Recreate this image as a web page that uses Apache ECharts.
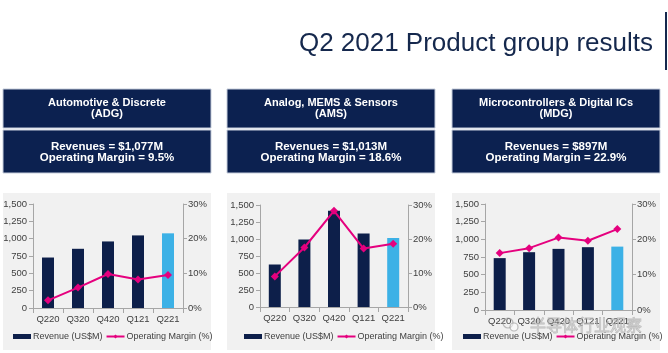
<!DOCTYPE html>
<html>
<head>
<meta charset="utf-8">
<title>Q2 2021 Product group results</title>
<script src="https://cdn.jsdelivr.net/npm/echarts@6/dist/echarts.min.js"></script>
<style>
  html, body { margin: 0; padding: 0; background: #fff; }
  .chart_main { width: 668px; height: 353px; }
</style>
</head>
<body>
<div class="chart_main"></div>
<script>
// 数据
var quarters = ['Q220', 'Q320', 'Q420', 'Q121', 'Q221'];

var adgRevenue = [728, 854, 960, 1047, 1077];
var adgMargin = [2.2, 5.9, 9.8, 8.2, 9.5];

var amsRevenue = [625, 993, 1416, 1082, 1013];
var amsMargin = [9.0, 17.5, 28.3, 17.2, 18.6];

var mdgRevenue = [734, 818, 865, 889, 897];
var mdgMargin = [16.1, 17.5, 20.5, 19.6, 22.9];

// 轴: min, max, interval
var revenueAxis = [0, 1500, 250];
var marginAxis = [0, 30, 10];

// 标题文字
var groupNames = ['Automotive & Discrete', 'Analog, MEMS & Sensors', 'Microcontrollers & Digital ICs'];
var groupCodes = ['(ADG)', '(AMS)', '(MDG)'];
var revenueTexts = ['Revenues = $1,077M', 'Revenues = $1,013M', 'Revenues = $897M'];
var marginTexts = ['Operating Margin = 9.5%', 'Operating Margin = 18.6%', 'Operating Margin = 22.9%'];

var revenueName = 'Revenue (US$M)';
var marginName = 'Operating Margin (%)';

var navy = '#0c2150';
var barNavy = '#0d1f4a';
var lightBlue = '#3cb1e6';
var magenta = '#e5007e';
var font = 'Liberation Sans, Arial, sans-serif';

var chart = echarts.init(document.querySelector('.chart_main'));

// 每个面板的位置
var panelX = [3, 227, 452];
var panelW = 208;
var grids = [
  { left: 33, top: 204, width: 150, height: 104 },
  { left: 260, top: 205, width: 148, height: 102 },
  { left: 485, top: 204, width: 147, height: 106 }
];
var legendLeft = [13, 244, 463];

var revenues = [adgRevenue, amsRevenue, mdgRevenue];
var margins = [adgMargin, amsMargin, mdgMargin];

var xAxes = [], yAxes = [], series = [], legends = [], graphics = [];

for (var i = 0; i < 3; i++) {
  xAxes.push({
    type: 'category',
    gridIndex: i,
    data: quarters,
    axisLine: { lineStyle: { color: '#a6a6a6' } },
    axisTick: { show: true, lineStyle: { color: '#a6a6a6' } },
    axisLabel: { color: '#404040', fontSize: 9.5, fontFamily: font, margin: 6, interval: 0 }
  });
  // 左轴 收入
  yAxes.push({
    type: 'value',
    gridIndex: i,
    min: revenueAxis[0],
    max: revenueAxis[1],
    interval: revenueAxis[2],
    axisLine: { show: true, lineStyle: { color: '#a6a6a6' } },
    axisTick: { show: true, length: 4, lineStyle: { color: '#a6a6a6' } },
    splitLine: { show: false },
    axisLabel: {
      color: '#404040', fontSize: 9.5, fontFamily: font, margin: 6,
      formatter: function (v) { return v.toLocaleString('en-US'); }
    }
  });
  // 右轴 利润率
  yAxes.push({
    type: 'value',
    gridIndex: i,
    position: 'right',
    min: marginAxis[0],
    max: marginAxis[1],
    interval: marginAxis[2],
    axisLine: { show: true, lineStyle: { color: '#a6a6a6' } },
    axisTick: { show: true, length: 4, lineStyle: { color: '#a6a6a6' } },
    splitLine: { show: false },
    axisLabel: { color: '#404040', fontSize: 9.5, fontFamily: font, margin: 5, formatter: '{value}%' }
  });

  series.push({
    name: revenueName,
    type: 'bar',
    xAxisIndex: i,
    yAxisIndex: i * 2,
    barWidth: 12,
    itemStyle: { color: barNavy },
    data: revenues[i].map(function (v, k) {
      // 最新季度高亮
      if (k === quarters.length - 1) {
        return { value: v, itemStyle: { color: lightBlue } };
      }
      return v;
    })
  });
  series.push({
    name: marginName,
    type: 'line',
    xAxisIndex: i,
    yAxisIndex: i * 2 + 1,
    symbol: 'diamond',
    symbolSize: 8,
    lineStyle: { color: magenta, width: 2 },
    itemStyle: { color: magenta },
    data: margins[i]
  });

  legends.push({
    left: legendLeft[i],
    top: 332,
    width: 230,
    padding: 0,
    itemWidth: 18,
    itemHeight: 5,
    itemGap: 3,
    textStyle: { color: '#404040', fontSize: 9, fontFamily: font, padding: [0, 0, 0, -3] },
    data: [
      { name: revenueName, icon: 'rect' },
      { name: marginName }
    ]
  });

  var px = panelX[i];
  var cx = px + panelW / 2;
  // 图表背景
  graphics.push({ type: 'rect', z: -10, shape: { x: px, y: 193, width: panelW, height: 157 }, style: { fill: '#f1f1f1' } });
  // 标题框
  graphics.push({ type: 'rect', z: 1, shape: { x: px, y: 89, width: panelW, height: 39 }, style: { fill: navy, stroke: '#c5cddb', lineWidth: 1 } });
  graphics.push({ type: 'rect', z: 1, shape: { x: px, y: 130, width: panelW, height: 43 }, style: { fill: navy, stroke: '#c5cddb', lineWidth: 1 } });
  graphics.push({ type: 'text', z: 2, x: cx, y: 103, style: { text: groupNames[i], fill: '#fff', font: 'bold 11px ' + font, textAlign: 'center', textVerticalAlign: 'middle' } });
  graphics.push({ type: 'text', z: 2, x: cx, y: 114, style: { text: groupCodes[i], fill: '#fff', font: 'bold 11px ' + font, textAlign: 'center', textVerticalAlign: 'middle' } });
  graphics.push({ type: 'text', z: 2, x: cx, y: 146.5, style: { text: revenueTexts[i], fill: '#fff', font: 'bold 11.5px ' + font, textAlign: 'center', textVerticalAlign: 'middle' } });
  graphics.push({ type: 'text', z: 2, x: cx, y: 158, style: { text: marginTexts[i], fill: '#fff', font: 'bold 11.5px ' + font, textAlign: 'center', textVerticalAlign: 'middle' } });
}

// 大标题和右侧竖线
graphics.push({ type: 'text', x: 653, y: 44, style: { text: 'Q2 2021 Product group results', fill: '#15284d', font: '26px ' + font, textAlign: 'right', textVerticalAlign: 'middle' } });
graphics.push({ type: 'rect', shape: { x: 665, y: 12, width: 2, height: 58 }, style: { fill: '#15284d' } });

// 水印
graphics.push({ type: 'circle', z: 50, shape: { cx: 508, cy: 323, r: 5 }, style: { fill: 'none', stroke: 'rgba(160,160,160,0.7)', lineWidth: 1.2 } });
graphics.push({ type: 'circle', z: 50, shape: { cx: 514, cy: 327, r: 4 }, style: { fill: 'rgba(255,255,255,0.5)', stroke: 'rgba(160,160,160,0.7)', lineWidth: 1.2 } });
graphics.push({ type: 'text', z: 50, x: 530, y: 325, style: { text: '半导体行业观察', fill: 'rgba(200,200,200,0.55)', stroke: 'rgba(140,140,140,0.5)', lineWidth: 0.8, font: '16px "Noto Sans CJK SC", sans-serif', textVerticalAlign: 'middle' } });

var option = {
  animation: false,
  grid: grids,
  xAxis: xAxes,
  yAxis: yAxes,
  legend: legends,
  series: series,
  graphic: graphics
};

chart.setOption(option);
</script>
</body>
</html>
